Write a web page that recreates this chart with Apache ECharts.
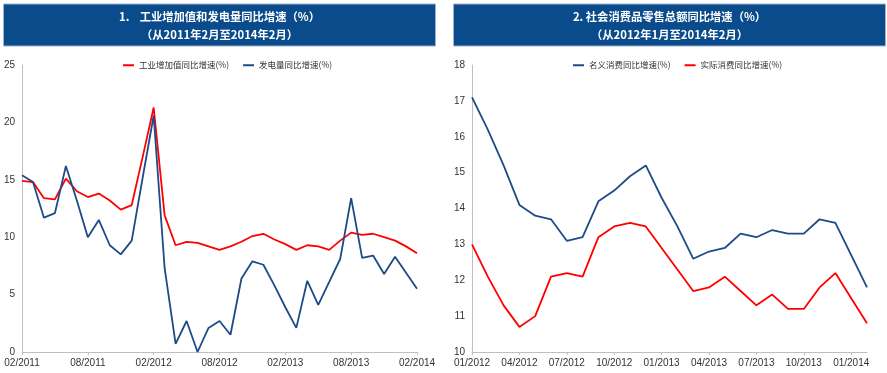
<!DOCTYPE html>
<html>
<head>
<meta charset="utf-8">
<script src="https://cdn.jsdelivr.net/npm/echarts@6/dist/echarts.min.js"></script>
<style>html,body{margin:0;padding:0;background:#fff;}#c{width:887px;height:373px;}</style>
</head>
<body>
<div id="c"></div>
<script>
var leftCategories = ['02/2011','03/2011','04/2011','05/2011','06/2011','07/2011','08/2011','09/2011','10/2011','11/2011','12/2011','01/2012',
  '02/2012','03/2012','04/2012','05/2012','06/2012','07/2012','08/2012','09/2012','10/2012','11/2012','12/2012','01/2013',
  '02/2013','03/2013','04/2013','05/2013','06/2013','07/2013','08/2013','09/2013','10/2013','11/2013','12/2013','01/2014','02/2014'];
var industryVals = [14.9,14.8,13.4,13.3,15.1,14.0,13.5,13.8,13.2,12.4,12.8,17.0,
  21.3,11.9,9.3,9.6,9.5,9.2,8.9,9.2,9.6,10.1,10.3,9.8,
  9.4,8.9,9.3,9.2,8.9,9.7,10.4,10.2,10.3,10.0,9.7,9.2,8.6];
var powerVals = [15.4,14.8,11.7,12.1,16.2,13.2,10.0,11.5,9.3,8.5,9.7,15.2,
  20.6,7.3,0.7,2.7,0.0,2.1,2.7,1.5,6.4,7.9,7.6,5.8,
  3.9,2.1,6.2,4.1,6.1,8.1,13.4,8.2,8.4,6.8,8.3,6.9,5.5];

var rightCategories = ['01/2012','02/2012','03/2012','04/2012','05/2012','06/2012','07/2012','08/2012','09/2012','10/2012','11/2012','12/2012',
  '01/2013','02/2013','03/2013','04/2013','05/2013','06/2013','07/2013','08/2013','09/2013','10/2013','11/2013','12/2013','01/2014','02/2014'];
var nominalVals = [17.1,16.2,15.2,14.1,13.8,13.7,13.1,13.2,14.2,14.5,14.9,15.2,
  14.3,13.5,12.6,12.8,12.9,13.3,13.2,13.4,13.3,13.3,13.7,13.6,12.7,11.8];
var realVals = [13.0,12.1,11.3,10.7,11.0,12.1,12.2,12.1,13.2,13.5,13.6,13.5,
  12.9,12.3,11.7,11.8,12.1,11.7,11.3,11.6,11.2,11.2,11.8,12.2,11.5,10.8];

var leftTicks = [0,5,10,15,20,25];
var rightTicks = [10,11,12,13,14,15,16,17,18];

var RED = '#ff0000', BLUE = '#1d4b87', NAVY = '#0a4b8c';
var labFont = "'Liberation Sans Narrow','Arial Narrow','Liberation Sans',Arial,sans-serif";
var cjk = "'Noto Sans CJK SC',sans-serif";
var axisLineStyle = {lineStyle:{color:'#bfbfbf', width:1}};
var axisLab = {color:'#333', fontSize:10, fontFamily:labFont};

function xAxis(idx, cats, interval){
  return {type:'category', gridIndex:idx, data:cats, boundaryGap:false,
    axisLine:axisLineStyle,
    axisTick:{show:true, interval:interval, length:3, lineStyle:{color:'#bfbfbf'}},
    axisLabel:Object.assign({interval:interval, margin:6}, axisLab),
    splitLine:{show:false}};
}
function yAxis(idx, ticks){
  return {type:'value', gridIndex:idx, min:ticks[0], max:ticks[ticks.length-1], interval:ticks[1]-ticks[0],
    axisLine:Object.assign({show:true}, axisLineStyle), axisTick:{show:false},
    axisLabel:Object.assign({margin:7}, axisLab), splitLine:{show:false}};
}
function line(name, data, color, xi, yi){
  return {name:name, type:'line', data:data, xAxisIndex:xi, yAxisIndex:yi, symbol:'none', smooth:false,
    lineStyle:{color:color, width:1.8}, itemStyle:{color:color}, animation:false};
}
function titleBox(x, w, l1, l2){
  return [
    {type:'rect', shape:{x:x, y:4, width:w, height:42}, style:{fill:NAVY, stroke:'#9fb3cc', lineWidth:1}, silent:true},
    {type:'text', x:x + w/2, y:17, style:{text:l1, fill:'#fff', font:"bold 11.3px " + cjk, textAlign:'center', textVerticalAlign:'middle'}},
    {type:'text', x:x + w/2, y:35, style:{text:l2, fill:'#fff', font:"bold 11.3px " + cjk, textAlign:'center', textVerticalAlign:'middle'}}
  ];
}

var chart = echarts.init(document.getElementById('c'), null, {renderer:'canvas'});
chart.setOption({
  animation:false,
  backgroundColor:'#fff',
  graphic: titleBox(3.5, 432, '1.    工业增加值和发电量同比增速（%）', '（从2011年2月至2014年2月）')
    .concat(titleBox(453.5, 432, '2. 社会消费品零售总额同比增速（%）', '（从2012年1月至2014年2月）')),
  legend:[
    {data:['工业增加值同比增速(%)','发电量同比增速(%)'], left:118, top:56, icon:'rect', itemWidth:11, itemHeight:2, itemGap:14,
      textStyle:{fontSize:8.5, color:'#333', fontFamily:cjk}},
    {data:['名义消费同比增速(%)','实际消费同比增速(%)'], left:568, top:56, icon:'rect', itemWidth:11, itemHeight:2, itemGap:14,
      textStyle:{fontSize:8.5, color:'#333', fontFamily:cjk}}
  ],
  grid:[
    {left:22, top:65, width:395, height:287},
    {left:472, top:65, width:395, height:287}
  ],
  xAxis:[xAxis(0, leftCategories, 5), xAxis(1, rightCategories, 2)],
  yAxis:[yAxis(0, leftTicks), yAxis(1, rightTicks)],
  series:[
    line('工业增加值同比增速(%)', industryVals, RED, 0, 0),
    line('发电量同比增速(%)', powerVals, BLUE, 0, 0),
    line('名义消费同比增速(%)', nominalVals, BLUE, 1, 1),
    line('实际消费同比增速(%)', realVals, RED, 1, 1)
  ]
});
</script>
</body>
</html>
